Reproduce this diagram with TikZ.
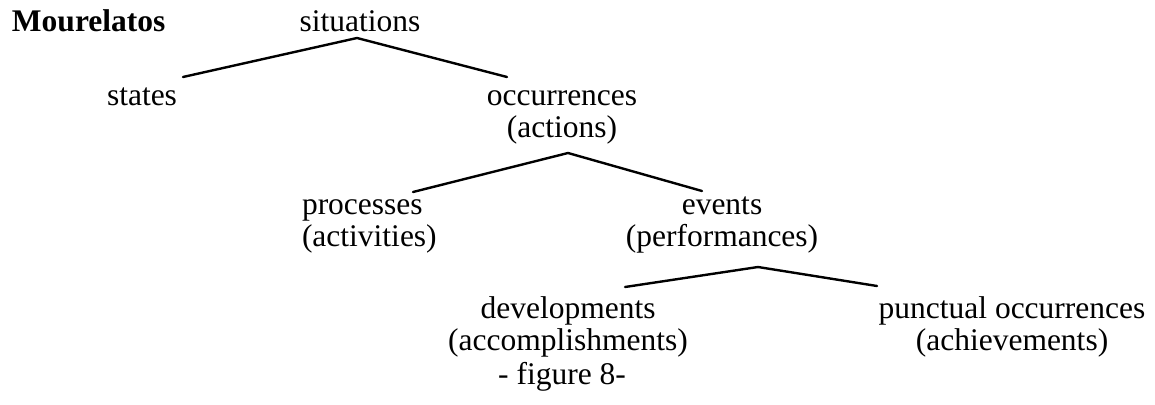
\documentclass[tikz,border=0pt]{standalone}
\usepackage{fontspec}
\setmainfont{Liberation Serif}
\usetikzlibrary{calc}
\begin{document}
\fontsize{31.5}{32}\selectfont
\begin{tikzpicture}[x=1pt,y=-1pt,
  lbl/.style={anchor=base, inner sep=0pt, outer sep=0pt, align=center},
  branch/.style={line width=2.4pt, black, line cap=round, line join=miter}]
\useasboundingbox (0,0) rectangle (1155,404);

% labels of the classification tree (multi-line labels sit on their last line)
\node[lbl, anchor=base west, font=\bfseries] (title) at (12,32) {Mourelatos};
\node[lbl] (sit) at (360,32) {situations};
\node[lbl] (states) at (142,105) {states};
\node[lbl] (occ) at (562,137) {occurrences\\(actions)};
\node[lbl, anchor=base west, align=left] (proc) at (302,246) {processes\\(activities)};
\node[lbl] (ev) at (722,246) {events\\(performances)};
\node[lbl] (dev) at (568,350) {developments\\(accomplishments)};
\node[lbl] (punct) at (1012,350) {punctual occurrences\\(achievements)};
\node[lbl] (fig) at (562,384) {- figure 8-};

% branches
\draw[branch] ($(states.base)+(41,-28)$) -- ($(sit.base)+(-3,6)$) -- ($(occ.base)+(-55,-60)$);
\draw[branch] ($(proc.base west)+(111,-54)$) -- ($(occ.base)+(6,16)$) -- ($(ev.base)+(-20,-55)$);
\draw[branch] ($(dev.base)+(57,-63)$) -- ($(ev.base)+(36,21)$) -- ($(punct.base)+(-135,-64)$);
\end{tikzpicture}
\end{document}
